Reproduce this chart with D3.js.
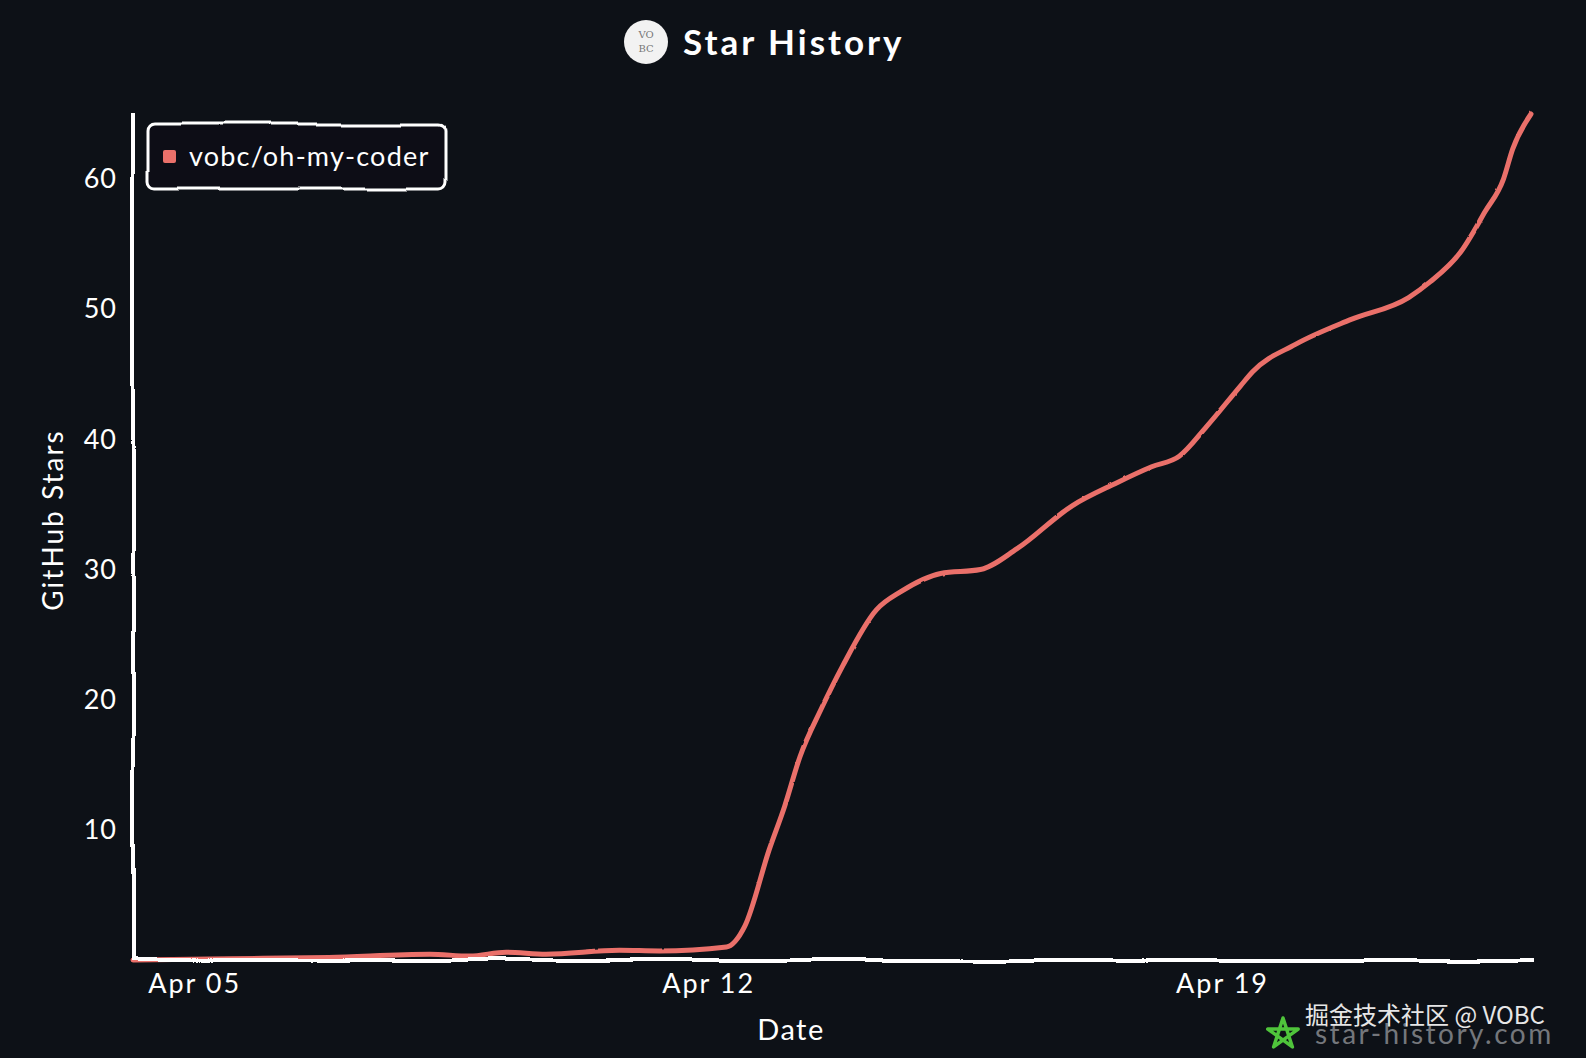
<!DOCTYPE html>
<html>
<head>
<meta charset="utf-8">
<script src="https://cdn.jsdelivr.net/npm/d3@7"></script>
<style>
  html, body { margin: 0; padding: 0; background: #0d1117; }
  svg { display: block; }
  text { font-family: "Lato", "Open Sans", sans-serif; fill: #ffffff; }
</style>
</head>
<body>
<svg id="chart" width="1586" height="1058"></svg>
<script>
// ---- data ----
const title = "Star History";
const seriesName = "vobc/oh-my-coder";
const dates = [
  "2023-04-04T04:00", "2023-04-05T12:00", "2023-04-06T20:00", "2023-04-08T05:00",
  "2023-04-08T18:00", "2023-04-09T06:00", "2023-04-09T19:00", "2023-04-10T19:00",
  "2023-04-11T08:00", "2023-04-12T06:00", "2023-04-12T12:00", "2023-04-12T20:00",
  "2023-04-13T01:00", "2023-04-13T06:00", "2023-04-13T13:00", "2023-04-13T20:00",
  "2023-04-14T07:00", "2023-04-14T15:00", "2023-04-15T04:00", "2023-04-15T17:00",
  "2023-04-16T05:00", "2023-04-16T23:00", "2023-04-17T13:00", "2023-04-18T01:00",
  "2023-04-18T10:00", "2023-04-18T19:00", "2023-04-19T06:00", "2023-04-19T10:00",
  "2023-04-20T00:00", "2023-04-20T18:00", "2023-04-21T13:00", "2023-04-21T20:00",
  "2023-04-22T06:00", "2023-04-22T14:00", "2023-04-22T20:00", "2023-04-22T23:00",
  "2023-04-23T05:00"
];
const stars = [
  0, 0.1, 0.2, 0.45,
  0.3, 0.6, 0.45, 0.75,
  0.7, 1.0, 2.6, 8.5,
  11.8, 15.6, 19.3, 22.6,
  26.9, 28.3, 29.7, 30.0,
  31.6, 34.9, 36.6, 37.9,
  38.7, 41.0, 44.1, 45.2,
  47.3, 49.2, 50.9, 52.1,
  54.4, 57.5, 60.0, 62.3,
  65.0
];
const yTicks = [10, 20, 30, 40, 50, 60];
const xTicks = ["2023-04-05T00:00", "2023-04-12T00:00", "2023-04-19T00:00"];
const xLabel = "Date";
const yLabel = "GitHub Stars";
const watermark = "star-history.com";
const credit = "掘金技术社区 @ VOBC";

// ---- chart ----
(function () {
const data = dates.map((d, i) => ({ date: new Date(d), value: stars[i] }));
const svg = d3.select("#chart");
const bg = "#0d1117";
const lineColor = "#ea706a";

svg.append("rect").attr("width", 1586).attr("height", 1058).attr("fill", bg);

// hand-drawn filters
const defs = svg.append("defs");
function makeFilter(id, freq, scale) {
  const f = defs.append("filter").attr("id", id).attr("filterUnits", "userSpaceOnUse")
    .attr("x", -10).attr("y", -10).attr("width", 1610).attr("height", 1080);
  f.append("feTurbulence").attr("type", "fractalNoise").attr("baseFrequency", freq)
    .attr("numOctaves", 1).attr("seed", 3).attr("result", "noise");
  f.append("feDisplacementMap").attr("scale", scale).attr("xChannelSelector", "R").attr("yChannelSelector", "G")
    .attr("in", "SourceGraphic").attr("in2", "noise");
}
makeFilter("xkcd", 0.012, 7);
makeFilter("xkcd2", 0.15, 2);

const mLeft = 133, mRight = 1531, mTop = 114, mBottom = 960;
const x = d3.scaleTime().domain(d3.extent(data, d => d.date)).range([mLeft, mRight]);
const y = d3.scaleLinear().domain([0, 65]).range([mBottom, mTop]);

// title
const tg = svg.append("g");
tg.append("circle").attr("cx", 646).attr("cy", 42).attr("r", 22).attr("fill", "#f2f2f2");
tg.append("text").attr("x", 646).attr("y", 38).attr("text-anchor", "middle")
  .style("font-family", "'DejaVu Serif', serif").style("font-size", "10px").style("fill", "#777")
  .text("VO");
tg.append("text").attr("x", 646).attr("y", 52).attr("text-anchor", "middle")
  .style("font-family", "'DejaVu Serif', serif").style("font-size", "10px").style("fill", "#777")
  .text("BC");
tg.append("text").attr("x", 683).attr("y", 55).style("font-size", "35px").style("font-weight", "bold")
  .style("letter-spacing", "3px").text(title);

// line
const line = d3.line().x(d => x(d.date)).y(d => y(d.value)).curve(d3.curveMonotoneX);
svg.append("path").datum(data).attr("d", line).attr("fill", "none")
  .attr("stroke", lineColor).attr("stroke-width", 5).attr("stroke-linecap", "round")
  .attr("filter", "url(#xkcd2)");

// axes
const yAxis = d3.axisLeft(y).tickValues(yTicks).tickSize(0).tickPadding(16);
const xAxis = d3.axisBottom(x).tickValues(xTicks.map(d => new Date(d)))
  .tickFormat(d3.timeFormat("%b %d")).tickSize(0).tickPadding(14);

const gy = svg.append("g").attr("transform", `translate(${mLeft},0)`).call(yAxis);
gy.select(".domain").remove();
gy.selectAll("text").style("font-size", "27px").style("font-family", "Lato, sans-serif")
  .style("letter-spacing", "1px").attr("fill", "#fff");

const gx = svg.append("g").attr("transform", `translate(0,${mBottom})`).call(xAxis);
gx.select(".domain").remove();
gx.selectAll("text").style("font-size", "27px").style("font-family", "Lato, sans-serif")
  .style("letter-spacing", "2px").attr("fill", "#fff");

// axis lines (hand-drawn)
svg.append("path")
  .attr("d", d3.line()([[mLeft, mTop], [mLeft, mBottom], [mRight + 2, mBottom]]))
  .attr("fill", "none").attr("stroke", "#fff").attr("stroke-width", 4)
  .attr("filter", "url(#xkcd)");

// axis labels
svg.append("text").attr("x", 791).attr("y", 1040).attr("text-anchor", "middle")
  .style("font-size", "29px").style("letter-spacing", "1.5px").text(xLabel);
svg.append("text").attr("transform", "translate(63,520) rotate(-90)").attr("text-anchor", "middle")
  .style("font-size", "28px").style("letter-spacing", "2px").text(yLabel);

// legend
const lg = svg.append("g");
lg.append("rect").attr("x", 148).attr("y", 124).attr("width", 297).attr("height", 65).attr("rx", 7)
  .attr("fill", bg).attr("stroke", "#fff").attr("stroke-width", 3).attr("filter", "url(#xkcd)");
lg.append("rect").attr("x", 163).attr("y", 150).attr("width", 13).attr("height", 13).attr("rx", 2)
  .attr("fill", lineColor);
lg.append("text").attr("x", 189).attr("y", 166).style("font-size", "27px")
  .style("letter-spacing", "1.2px").text(seriesName);

// watermark
const wg = svg.append("g");
const starPts = d3.range(5).map(i => {
  const a = -Math.PI / 2 + i * 4 * Math.PI / 5;
  return [1283 + 16 * Math.cos(a), 1034 + 16 * Math.sin(a)];
});
wg.append("path").attr("d", d3.line()(starPts) + "Z").attr("fill", "none")
  .attr("stroke", "#4fc43b").attr("stroke-width", 3.5).attr("stroke-linejoin", "round");
wg.append("text").attr("x", 1315).attr("y", 1044).style("font-size", "28px")
  .style("letter-spacing", "2.5px").style("fill", "#74777c").text(watermark);
wg.append("text").attr("x", 1305).attr("y", 1024)
  .style("font-family", "'Noto Sans CJK SC', sans-serif").style("font-size", "24px")
  .style("fill", "#e6e6e6").text(credit);
})();
</script>
</body>
</html>
